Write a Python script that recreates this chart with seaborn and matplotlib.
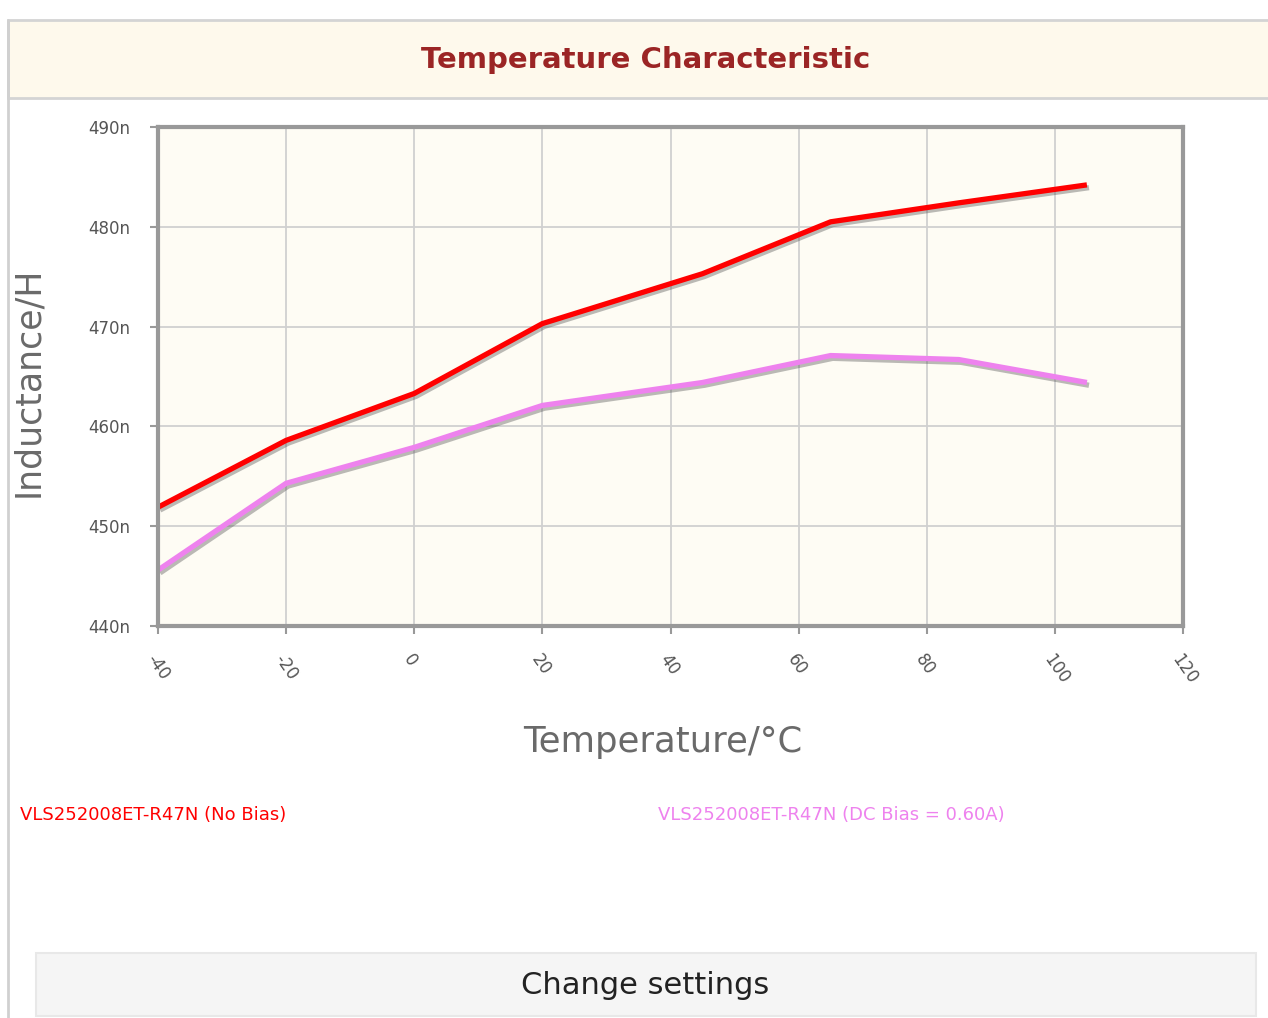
import numpy as np
import pandas as pd
import matplotlib
matplotlib.use("Agg")
import matplotlib.pyplot as plt
import matplotlib.patheffects as pe
from matplotlib.patches import Rectangle
from matplotlib.ticker import FuncFormatter
import seaborn as sns

# ---- data ----
temperature_c = [-40, -20, 0, 20, 45, 65, 85, 105]
no_bias_nh = [451.9, 458.6, 463.3, 470.3, 475.3, 480.5, 482.4, 484.2]
dc_bias_nh = [445.6, 454.3, 457.9, 462.1, 464.4, 467.1, 466.7, 464.4]
series_names = ["VLS252008ET-R47N (No Bias)", "VLS252008ET-R47N (DC Bias = 0.60A)"]
series_colors = ["#ff0000", "#ee82ee"]
x_ticks = [-40, -20, 0, 20, 40, 60, 80, 100, 120]
y_ticks_nh = [440, 450, 460, 470, 480, 490]

df = pd.DataFrame({
    "Temperature": temperature_c * 2,
    "Inductance": [v * 1e-9 for v in no_bias_nh + dc_bias_nh],
    "Series": [series_names[0]] * len(temperature_c) + [series_names[1]] * len(temperature_c),
})

sns.set_theme(style="white")
plt.rcParams['font.family'] = ['DejaVu Sans']
plt.rcParams['axes.unicode_minus'] = False

W, H = 1268, 1018
fig = plt.figure(figsize=(W / 100, H / 100), dpi=100)
fig.patch.set_facecolor("white")

def px_rect(x0, y0, x1, y1, **kw):
    fig.add_artist(Rectangle((x0 / W, 1 - y1 / H), (x1 - x0) / W, (y1 - y0) / H,
                             transform=fig.transFigure, **kw))

narrow = ["Liberation Sans Narrow", "DejaVu Sans"]

px_rect(8, 20, 1272, 98, facecolor="#fef9ec", edgecolor="#d4d4d4", linewidth=2)
fig.add_artist(plt.Line2D([8 / W, 8 / W], [0, 1 - 20 / H], transform=fig.transFigure,
                          color="#d0d0d0", linewidth=2))
fig.text(646 / W, 1 - 60 / H, "Temperature Characteristic", ha="center", va="center",
         fontsize=21, fontweight="bold", color="#9b2525", family=narrow)

px_rect(36, 953, 1256, 1016, facecolor="#f5f5f5", edgecolor="#e8e8e8", linewidth=1.5)
fig.text(645 / W, 1 - 986 / H, "Change settings", ha="center", va="center",
         fontsize=22, color="#222222", family=narrow)

left, right, top, bottom = 158, 1183, 127, 626
ax = fig.add_axes([left / W, 1 - bottom / H, (right - left) / W, (bottom - top) / H])
ax.set_facecolor("#fefcf4")

sns.lineplot(data=df, x="Temperature", y="Inductance", hue="Series",
             palette=series_colors, linewidth=3.8, legend=False, ax=ax, sort=False)
for ln in ax.lines:
    ln.set_solid_capstyle("butt")
    ln.set_path_effects([pe.SimpleLineShadow(offset=(1.5, -2), shadow_color="#555555", alpha=0.4),
                         pe.Normal()])

ax.set_xlim(-40, 120)
ax.set_ylim(440e-9, 490e-9)
ax.set_xticks(x_ticks)
ax.set_yticks([v * 1e-9 for v in y_ticks_nh])
ax.yaxis.set_major_formatter(FuncFormatter(lambda v, p: f"{v * 1e9:.0f}n"))
ax.grid(True, color="#d0d0d0", linewidth=1.3)
ax.set_axisbelow(True)
for s in ax.spines.values():
    s.set_color("#999999")
    s.set_linewidth(3)
ax.tick_params(axis="both", which="both", direction="out", color="#999999",
               length=6, width=1.5, labelcolor="#555555", labelsize=12,
               left=True, bottom=True)
ax.tick_params(axis="y", pad=14)
ax.tick_params(axis="x", pad=12)
for lab in ax.get_xticklabels():
    lab.set_rotation(-55)
    lab.set_ha("left")
    lab.set_va("top")
    lab.set_rotation_mode("anchor")

ax.set_xlabel("")
ax.set_ylabel("")
fig.text(28 / W, 1 - 382 / H, "Inductance/H", rotation=90, ha="center", va="center",
         fontsize=25, color="#6a6a6a")
fig.text(663 / W, 1 - 742 / H, "Temperature/°C", ha="center", va="center",
         fontsize=25.5, color="#6a6a6a")

fig.text(20 / W, 1 - 815 / H, series_names[0], ha="left", va="center",
         fontsize=13, color=series_colors[0], family=narrow)
fig.text(658 / W, 1 - 815 / H, series_names[1], ha="left", va="center",
         fontsize=13, color=series_colors[1], family=narrow)

fig.savefig("out.png", dpi=100)
